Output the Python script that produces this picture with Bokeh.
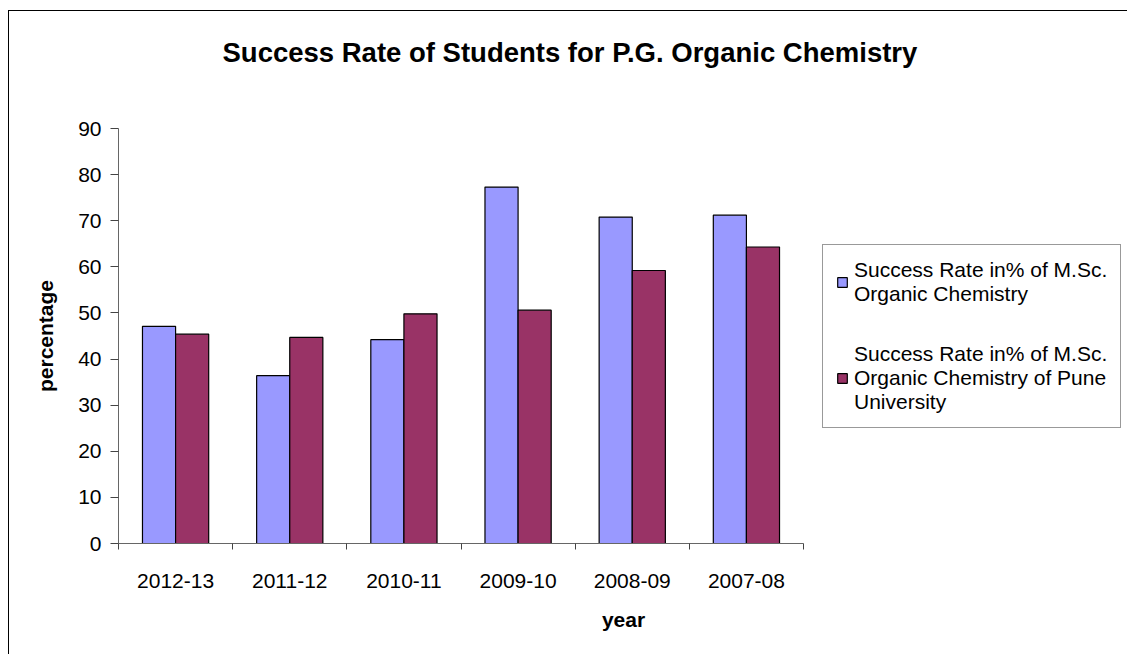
from bokeh.plotting import figure
from bokeh.models import (Range1d, LinearAxis, FixedTicker, Title,
                          ColumnDataSource, Legend, LegendItem)
from bokeh.transform import dodge
from bokeh.embed import file_html
from bokeh.resources import INLINE

years = ["2012-13", "2011-12", "2010-11", "2009-10", "2008-09", "2007-08"]
msc_rate = [47.1, 36.4, 44.2, 77.3, 70.8, 71.2]
pune_rate = [45.4, 44.7, 49.8, 50.6, 59.2, 64.3]
y_ticks = [0, 10, 20, 30, 40, 50, 60, 70, 80, 90]
series_labels = ["Success Rate in% of M.Sc.\nOrganic Chemistry",
                 "Success Rate in% of M.Sc.\nOrganic Chemistry of Pune\nUniversity"]

FONT = "Liberation Sans"
W, H = 1119, 644
LEFT, TOP, BOTTOM = 109, 117, 112
CAT_AREA = 685          # pixel width of the category area
n = len(years)
frame_w = W - LEFT
x_end = n * frame_w / CAT_AREA   # frame extends right so the legend sits inside it

src = ColumnDataSource(dict(pos=[i + 0.5 for i in range(n)], year=years,
                            msc=msc_rate, pune=pune_rate))

p = figure(width=W, height=H, x_range=Range1d(0, x_end), y_range=Range1d(0, 90),
           x_axis_location=None, output_backend="svg", toolbar_location=None,
           min_border_left=LEFT, min_border_right=0, min_border_top=TOP, min_border_bottom=BOTTOM)
p.styles = {"margin-left": "8px", "margin-top": "10px",
            "border-left": "1px solid #000", "border-top": "1px solid #000"}
p.title.text = ""

spacer = Title(text=" ", text_font_size="1px", standoff=53)
main_title = Title(text="Success Rate of Students for P.G. Organic Chemistry",
                   text_font=FONT, text_font_size="27.5px", text_font_style="bold",
                   text_color="black", align="left", offset=104, standoff=10)
p.add_layout(spacer, "above")
p.add_layout(main_title, "above")

p.xgrid.visible = False
p.ygrid.visible = False
p.outline_line_color = None

r1 = p.vbar(x=dodge("pos", -0.145), top="msc", width=0.29, source=src,
            fill_color="#9999FF", line_color="black", line_width=1.2)
r2 = p.vbar(x=dodge("pos", 0.145), top="pune", width=0.29, source=src,
            fill_color="#993366", line_color="black", line_width=1.2)

# y axis
ya = p.yaxis[0]
ya.ticker = FixedTicker(ticks=y_ticks)
ya.major_tick_out = 8
ya.major_tick_in = 0
ya.minor_tick_line_color = None
ya.axis_line_color = "#666666"
ya.major_tick_line_color = "#444444"
ya.major_label_text_font = FONT
ya.major_label_text_font_size = "21px"
ya.major_label_text_color = "black"
ya.major_label_standoff = 9
ya.axis_label = "percentage"
ya.axis_label_text_font = FONT
ya.axis_label_text_font_size = "21px"
ya.axis_label_text_font_style = "bold"
ya.axis_label_text_color = "black"
ya.axis_label_standoff = 18

# x axis: labels at category centres, ticks at category boundaries
xa = LinearAxis(ticker=FixedTicker(ticks=[i + 0.5 for i in range(n)], minor_ticks=list(range(n + 1))),
                major_label_overrides={i + 0.5: years[i] for i in range(n)},
                bounds=(0, n))
xa.major_tick_out = 0
xa.major_tick_in = 0
xa.minor_tick_out = 6
xa.minor_tick_in = 0
xa.minor_tick_line_color = "#444444"
xa.axis_line_color = "#666666"
xa.major_label_text_font = FONT
xa.major_label_text_font_size = "21px"
xa.major_label_text_color = "black"
xa.major_label_standoff = 24
xa.axis_label = "year"
xa.axis_label_text_font = FONT
xa.axis_label_text_font_size = "21px"
xa.axis_label_text_font_style = "bold"
xa.axis_label_text_color = "black"
xa.axis_label_standoff = 17
p.add_layout(xa, "below")

legend = Legend(items=[LegendItem(label=series_labels[0], renderers=[r1]),
                       LegendItem(label=series_labels[1], renderers=[r2])],
                location=(704, 115))
legend.label_text_font = FONT
legend.label_text_font_size = "21px"
legend.label_text_color = "black"
legend.label_text_line_height = 1.35
legend.glyph_width = 12
legend.glyph_height = 12
legend.label_standoff = 6
legend.padding = 13
legend.spacing = 36
legend.margin = 0
legend.border_line_color = "#333333"
legend.border_line_width = 1
legend.background_fill_alpha = 1
p.add_layout(legend, "center")

open("out.html", "w").write(file_html(p, INLINE))
